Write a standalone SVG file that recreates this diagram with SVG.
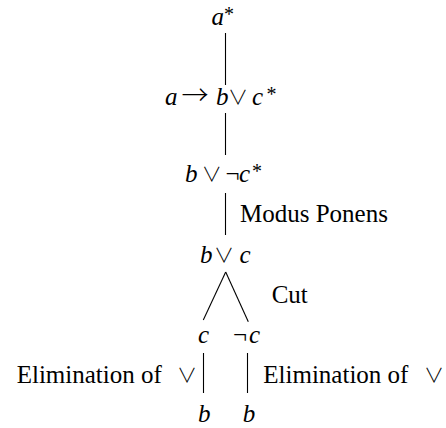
<svg xmlns="http://www.w3.org/2000/svg" width="446" height="428" viewBox="0 0 446 428">
<style>
text{font-family:'Liberation Serif','Noto Sans CJK JP',serif;font-size:25px;fill:#000}
.m{font-style:italic}
.s{font-size:20px;font-style:normal}
.o{font-style:normal}
.v{font-family:'Noto Sans CJK JP','DejaVu Sans',sans-serif;font-style:normal;font-weight:300;font-size:20px}
.r{font-family:'Noto Sans CJK JP','DejaVu Sans',sans-serif;font-style:normal;font-weight:300;font-size:27px}
.e{stroke:#000;stroke-width:1.1;fill:none}
</style>
<rect width="446" height="428" fill="#fff"/>
<g id="edges">
<line class="e" x1="225.5" y1="33" x2="225.5" y2="85"/>
<line class="e" x1="225.5" y1="113" x2="225.5" y2="155"/>
<line class="e" x1="225.5" y1="193" x2="225.5" y2="235"/>
<line class="e" x1="225.7" y1="272" x2="203.3" y2="320"/>
<line class="e" x1="225.7" y1="272" x2="248.3" y2="321.7"/>
<line class="e" x1="203.5" y1="353" x2="203.5" y2="393"/>
<line class="e" x1="247.5" y1="353" x2="247.5" y2="393"/>
</g>
<g id="n1"><text class="m" y="25"><tspan x="211.5">a</tspan><tspan class="s" x="224" y="21">*</tspan></text></g>
<g id="n2"><text y="105"><tspan class="m" x="165">a</tspan><tspan class="r" x="181.5">→</tspan><tspan class="m" x="216">b</tspan><tspan class="v" x="228">∨</tspan><tspan class="m" x="252">c</tspan><tspan class="s" x="266.5" y="101">*</tspan></text></g>
<g id="n3"><text y="182"><tspan class="m" x="185">b</tspan><tspan class="v" x="201.7">∨</tspan><tspan class="o" x="225.5">¬</tspan><tspan class="m" x="239">c</tspan><tspan class="s" x="252" y="178">*</tspan></text></g>
<g id="n4"><text y="263"><tspan class="m" x="200">b</tspan><tspan class="v" x="214">∨</tspan><tspan class="m" x="239.5">c</tspan></text></g>
<g id="n5"><text class="m" x="198" y="343">c</text></g>
<g id="n6"><text y="343"><tspan class="o" x="233">¬</tspan><tspan class="m" x="249">c</tspan></text></g>
<g id="n7"><text class="m" x="198" y="421.7">b</text></g>
<g id="n8"><text class="m" x="242.7" y="421.7">b</text></g>
<g id="labels">
<text x="240" y="222">Modus Ponens</text>
<text x="271.7" y="303">Cut</text>
<text x="16.7" y="382.7">Elimination of <tspan class="v" x="177">∨</tspan></text>
<text x="263.3" y="382.7">Elimination of <tspan class="v" x="424">∨</tspan></text>
</g>
</svg>
